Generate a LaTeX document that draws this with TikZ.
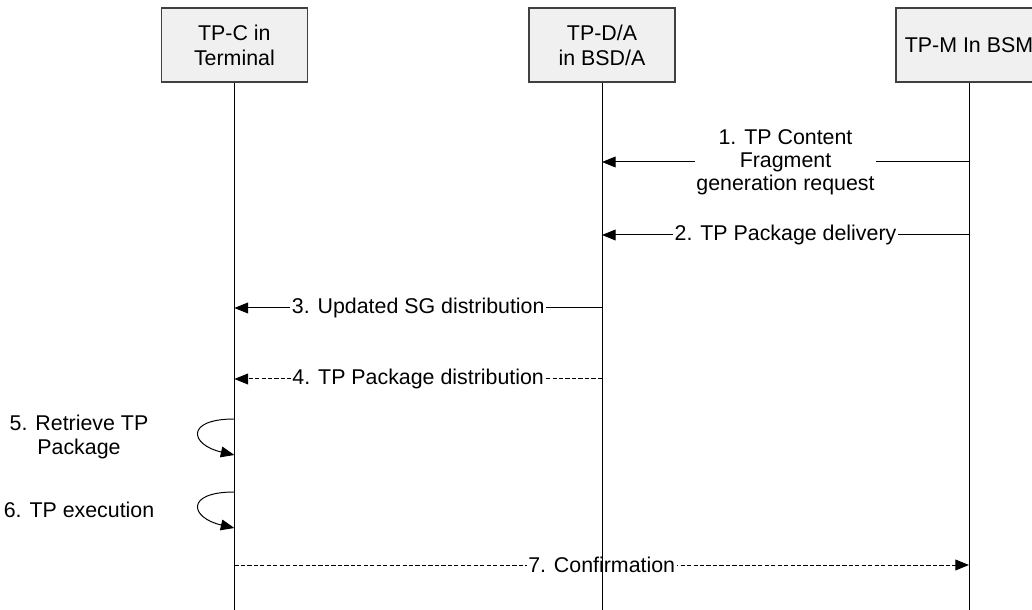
\documentclass[tikz,border=0pt]{standalone}
\usepackage{fontspec}
\setmainfont{Liberation Sans}
\usetikzlibrary{arrows.meta,positioning}
\definecolor{sqink}{HTML}{000000}
\definecolor{sqbox}{HTML}{F0F0F0}
\definecolor{sqedge}{HTML}{404040}
\tikzset{
  sq text/.style={font=\fontsize{15.2}{16.5}\selectfont, text=sqink},
  sq actor/.style={draw=sqedge, line width=0.9pt, fill=sqbox, minimum width=36.5mm,
    minimum height=18.5mm, align=center, inner sep=0pt,
    font=\fontsize{15.2}{17.7}\selectfont},
  sq life/.style={draw=sqink, line width=0.7pt},
  sq msg/.style={-{Triangle[length=3.4mm,width=2.7mm]}, line width=0.7pt, draw=sqink},
  sq async/.style={sq msg, dash pattern=on 3pt off 1.6pt},
  sq label/.style={fill=white, inner xsep=1pt, inner ysep=0.5pt, align=center},
  sq note/.style={align=center, font=\fontsize{15.2}{17}\selectfont}
}

\begin{document}
\begin{tikzpicture}[sq text, x=1cm, y=1cm]
  \clip (0,0) rectangle (25.8,15.25);
  % actors
  \node[sq actor] (tpc) at (5.86,14.125) {TP-C in\\Terminal};
  \node[sq actor] (tpda) at (15.05,14.125) {TP-D/A\\in BSD/A};
  \node[sq actor] (tpm) at (24.225,14.125) {TP-M In BSM};
  \coordinate (tpc end) at (tpc |- 0,0);
  \coordinate (tpda end) at (tpda |- 0,0);
  \coordinate (tpm end) at (tpm |- 0,0);
  % messages
  \coordinate (m1 from) at (tpm |- 0,11.2);
  \coordinate (m1 to) at (tpda |- 0,11.2);
  \draw[sq msg] (m1 from) -- node[sq label] {1. TP Content\\Fragment\\generation request} (m1 to);
  \coordinate (m2 from) at (tpm |- 0,9.375);
  \coordinate (m2 to) at (tpda |- 0,9.375);
  \draw[sq msg] (m2 from) -- node[sq label] {2. TP Package delivery} (m2 to);
  \coordinate (m3 from) at (tpda |- 0,7.55);
  \coordinate (m3 to) at (tpc |- 0,7.55);
  \draw[sq msg] (m3 from) -- node[sq label] {3. Updated SG distribution} (m3 to);
  \coordinate (m4 from) at (tpda |- 0,5.775);
  \coordinate (m4 to) at (tpc |- 0,5.775);
  \draw[sq async] (m4 from) -- node[sq label] {4. TP Package distribution} (m4 to);
  % self calls on the terminal
  \coordinate (l5 from) at (tpc |- 0,4.775);
  \coordinate (l5 to) at (tpc |- 0,3.875);
  \draw[sq msg] (l5 from) .. controls +(-1.25,0) and +(-1.1,0.25) .. (l5 to);
  \node[sq note] (l5 text) at (1.975,4.325) {5. Retrieve TP\\Package};
  \coordinate (l6 from) at (tpc |- 0,2.95);
  \coordinate (l6 to) at (tpc |- 0,2.05);
  \draw[sq msg] (l6 from) .. controls +(-1.25,0) and +(-1.1,0.25) .. (l6 to);
  \node[sq note] (l6 text) at (1.975,2.5) {6. TP execution};
  \coordinate (m7 from) at (tpc |- 0,1.125);
  \coordinate (m7 to) at (tpm |- 0,1.125);
  \draw[sq async] (m7 from) -- node[sq label] {7. Confirmation} (m7 to);
  % lifelines
  \draw[sq life] (tpc.south) -- (tpc end);
  \draw[sq life] (tpda.south) -- (tpda end);
  \draw[sq life] (tpm.south) -- (tpm end);
\end{tikzpicture}
\end{document}
